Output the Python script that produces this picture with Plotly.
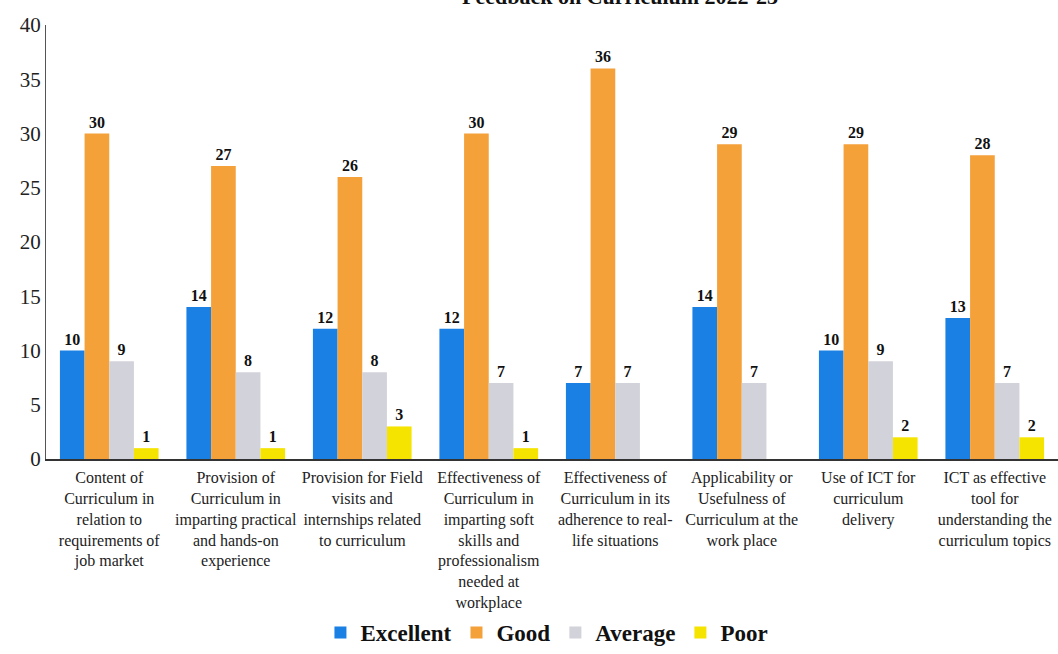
import plotly.graph_objects as go

categories = [
    "Content of<br>Curriculum in<br>relation to<br>requirements of<br>job market",
    "Provision of<br>Curriculum in<br>imparting practical<br>and hands-on<br>experience",
    "Provision for Field<br>visits and<br>internships related<br>to curriculum",
    "Effectiveness of<br>Curriculum in<br>imparting soft<br>skills and<br>professionalism<br>needed at<br>workplace",
    "Effectiveness of<br>Curriculum in its<br>adherence to real-<br>life situations",
    "Applicability or<br>Usefulness of<br>Curriculum at the<br>work place",
    "Use of ICT for<br>curriculum<br>delivery",
    "ICT as effective<br>tool for<br>understanding the<br>curriculum topics",
]
excellent = [10, 14, 12, 12, 7, 14, 10, 13]
good = [30, 27, 26, 30, 36, 29, 29, 28]
average = [9, 8, 8, 7, 7, 7, 9, 7]
poor = [1, 1, 3, 1, None, None, 2, 2]
series_names = ["Excellent", "Good", "Average", "Poor"]
colors = ["#1A80E4", "#F4A13A", "#D2D2DA", "#F5E400"]
title_text = "Feedback on Curriculum 2022-23"

serif = "Liberation Serif, Times New Roman, serif"
fig = go.Figure()
for name, vals, col in zip(series_names, [excellent, good, average, poor], colors):
    fig.add_trace(go.Bar(
        x=categories, y=vals, name=name, marker=dict(color=col, line=dict(width=0)),
        text=[("" if v is None else str(v)) for v in vals],
        textposition="outside", cliponaxis=False, constraintext="none",
        textfont=dict(family=serif, size=16, color="#111111", weight="bold"),
    ))

fig.update_layout(
    width=1058, height=654,
    paper_bgcolor="white", plot_bgcolor="white",
    margin=dict(l=46, r=0, t=25, b=195),
    barmode="group", bargap=0.22, bargroupgap=0.0,
    font=dict(family=serif, color="#222222"),
    showlegend=True,
    legend=dict(orientation="h", x=0.495, xanchor="center", yref="container",
                y=-0.014, yanchor="bottom", bgcolor="rgba(0,0,0,0)",
                font=dict(family=serif, size=23, color="#111111", weight="bold"),
                itemwidth=30, traceorder="normal"),
    annotations=[dict(text="<b>" + title_text + "</b>", xref="paper", yref="paper",
                      x=0.725, xanchor="right", y=1.033, yanchor="bottom", showarrow=False,
                      font=dict(family=serif, size=22, color="#111111"))],
)
fig.update_yaxes(range=[0, 40], dtick=5, showgrid=False, zeroline=False, automargin=False,
                 showline=True, linecolor="#555555", linewidth=1,
                 tickfont=dict(family=serif, size=21, color="#222222"), ticks="", ticklen=0)
fig.update_xaxes(showgrid=False, showline=True, linecolor="#333333", linewidth=2, automargin=False,
                 tickfont=dict(family=serif, size=16, color="#222222"), tickangle=0, ticks="",
                 ticklabelstandoff=3)

fig.write_html("out.html", config={"displayModeBar": False},
               post_script="document.body.style.margin='0px';")
